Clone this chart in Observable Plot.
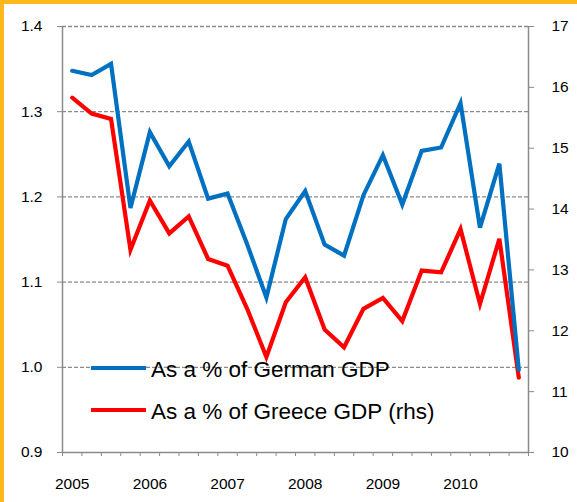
<!DOCTYPE html>
<html><head><meta charset="utf-8">
<script src="https://cdn.jsdelivr.net/npm/d3@7"></script>
<script src="https://cdn.jsdelivr.net/npm/@observablehq/plot@0.6"></script>
<style>
body{margin:0;background:#fff;font-family:Arial,"Liberation Sans",sans-serif}
#wrap{position:relative;width:577px;height:502px;overflow:hidden}
.bt{position:absolute;left:0;top:0;width:577px;height:4px;background:#FFB81C}
.bl{position:absolute;left:0;top:0;width:4px;height:502px;background:#FFB81C}
.leg{position:absolute;left:91px;font-size:22.5px;color:#000;white-space:nowrap;line-height:1}
.leg span.sw{display:inline-block;width:55px;height:4px;vertical-align:middle;margin-right:5px;position:relative;top:-3px}
</style></head><body><div id="wrap"></div>
<script>
const quarters = ["2005Q1","2005Q2","2005Q3","2005Q4","2006Q1","2006Q2","2006Q3","2006Q4",
  "2007Q1","2007Q2","2007Q3","2007Q4","2008Q1","2008Q2","2008Q3","2008Q4",
  "2009Q1","2009Q2","2009Q3","2009Q4","2010Q1","2010Q2","2010Q3","2010Q4"];
const yearLabels = ["2005","2006","2007","2008","2009","2010"];
const germanGDP = [1.348,1.343,1.356,1.187,1.276,1.236,1.265,1.198,1.204,1.145,1.082,1.174,
  1.207,1.144,1.131,1.202,1.249,1.191,1.254,1.258,1.310,1.164,1.239,0.997];
const greeceGDP = [15.83,15.57,15.48,13.33,14.14,13.60,13.88,13.18,13.07,12.37,11.57,12.47,
  12.88,12.02,11.73,12.36,12.54,12.16,12.99,12.96,13.67,12.44,13.51,11.23];
const leftTicks = [0.9,1.0,1.1,1.2,1.3,1.4];
const rightTicks = [10,11,12,13,14,15,16,17];
const seriesNames = ["As a % of German GDP","As a % of Greece GDP (rhs)"];
const colors = ["#0070C0","#FF0000"];

// map right-axis values onto left scale
const toLeft = v => 0.9 + (v - 10) * (0.5 / 7);
const fromLeft = d => Math.round(10 + (d - 0.9) * 14);

const rows = quarters.map((q, i) => ({q, x: i + 0.5, de: germanGDP[i], gr: toLeft(greeceGDP[i])}));
const boundaries = d3.range(quarters.length + 1);
const yearPos = yearLabels.map((y, k) => quarters.indexOf(y + "Q1") + 0.5);

const chart = Plot.plot({
  width: 577, height: 502,
  marginLeft: 62, marginRight: 49, marginTop: 26, marginBottom: 50,
  style: {fontFamily: "Arial, 'Liberation Sans', sans-serif", fontSize: "15.5px", color: "#000", background: "transparent"},
  x: {type: "linear", domain: [0, quarters.length]},
  y: {domain: [0.9, 1.4]},
  marks: [
    Plot.ruleY(leftTicks.slice(1), {stroke: "#8a8a8a", strokeWidth: 1.3, strokeDasharray: "4,2"}),
    Plot.ruleX([0, quarters.length], {stroke: "#8a8a8a", strokeWidth: 1.5}),
    Plot.ruleY([0.9], {stroke: "#8a8a8a", strokeWidth: 1.5}),
    Plot.axisY({ticks: leftTicks, tickFormat: d3.format(".1f"), tickSize: 5, tickPadding: 15, stroke: "#8a8a8a", fill: "#000", label: null}),
    Plot.axisY({anchor: "right", ticks: rightTicks.map(toLeft), tickFormat: fromLeft, tickSize: 5, tickPadding: 18, stroke: "#8a8a8a", fill: "#000", label: null}),
    Plot.axisX({ticks: boundaries, tickFormat: () => "", tickSize: 4, stroke: "#8a8a8a", label: null}),
    Plot.axisX({ticks: yearPos, tickFormat: d => yearLabels[Math.floor(d / 4)], tickSize: 0, tickPadding: 25, fill: "#000", label: null}),
    Plot.line(rows, {x: "x", y: "gr", stroke: colors[1], strokeWidth: 4.2, strokeLinejoin: "miter", strokeMiterlimit: 4}),
    Plot.line(rows, {x: "x", y: "de", stroke: colors[0], strokeWidth: 4.2, strokeLinejoin: "miter", strokeMiterlimit: 4})
  ]
});

const wrap = document.getElementById("wrap");
wrap.appendChild(chart);
const legTops = [359, 401];
seriesNames.forEach((n, i) => {
  const d = document.createElement("div");
  d.className = "leg";
  d.style.top = legTops[i] + "px";
  d.innerHTML = `<span class="sw" style="background:${colors[i]}"></span>${n}`;
  wrap.appendChild(d);
});
["bt","bl"].forEach(c => { const b = document.createElement("div"); b.className = c; wrap.appendChild(b); });
</script></body></html>
